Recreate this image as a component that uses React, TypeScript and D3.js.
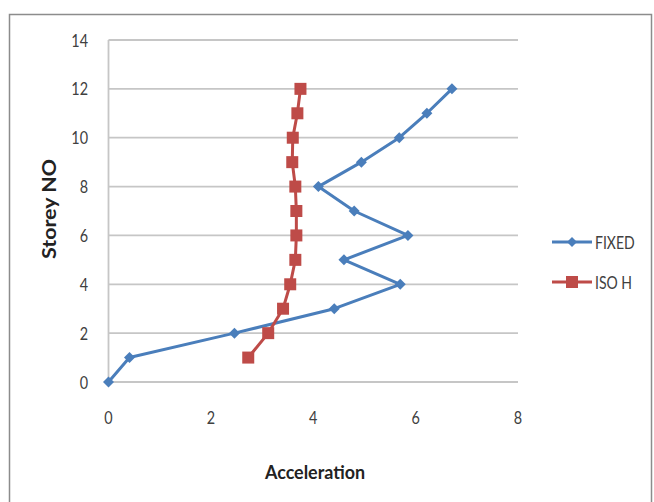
import React from "react";
import * as d3 from "d3";

const storeys = [0, 1, 2, 3, 4, 5, 6, 7, 8, 9, 10, 11, 12];
const fixedAcc = [0, 0.41, 2.46, 4.41, 5.7, 4.6, 5.85, 4.8, 4.1, 4.94, 5.68, 6.22, 6.71];
const isoStoreys = [1, 2, 3, 4, 5, 6, 7, 8, 9, 10, 11, 12];
const isoAcc = [2.73, 3.12, 3.41, 3.55, 3.65, 3.67, 3.67, 3.65, 3.59, 3.6, 3.69, 3.75];
const xTicks = [0, 2, 4, 6, 8];
const yTicks = [0, 2, 4, 6, 8, 10, 12, 14];
const seriesNames = ["FIXED", "ISO H"];

const W = 654;
const H = 502;
const font = "Lato, 'Open Sans', sans-serif";
const blue = "#4a7ebb";
const red = "#be4b48";
const labelColor = "#404040";

// narrow-looking text: horizontally condensed around its anchor point
function NarrowText(props: {
  x: number;
  y: number;
  anchor?: "start" | "middle" | "end";
  size: number;
  squeeze?: number;
  children: React.ReactNode;
}) {
  const { x, y, anchor = "start", size, squeeze = 0.8, children } = props;
  return (
    <text
      transform={`translate(${x},${y}) scale(${squeeze},1)`}
      textAnchor={anchor}
      fontFamily={font}
      fontSize={size}
      fill={labelColor}
    >
      {children}
    </text>
  );
}

export default function App() {
  const x = d3.scaleLinear().domain([0, 8]).range([108.5, 518]);
  const y = d3.scaleLinear().domain([0, 14]).range([382, 40]);

  const fixedPts: [number, number][] = storeys.map((s, i) => [fixedAcc[i], s]);
  const isoPts: [number, number][] = isoStoreys.map((s, i) => [isoAcc[i], s]);
  const line = d3
    .line<[number, number]>()
    .x((d) => x(d[0]))
    .y((d) => y(d[1]));

  const diamond = (cx: number, cy: number, r: number) =>
    `M${cx},${cy - r}L${cx + r},${cy}L${cx},${cy + r}L${cx - r},${cy}Z`;

  return (
    <svg
      width={W}
      height={H}
      style={{ position: "absolute", left: 0, top: 0, background: "#fff" }}
    >
      <rect x={0} y={0} width={W} height={H} fill="#fff" />
      <rect x={9.5} y={14.5} width={642} height={500} fill="none" stroke="#8c8c8c" strokeWidth={1.5} />

      {yTicks.map((t) => (
        <g key={t}>
          <line x1={x(0)} x2={x(8)} y1={y(t)} y2={y(t)} stroke="#c6c6c6" strokeWidth={1.8} />
          <NarrowText x={88} y={y(t) + 6.5} anchor="end" size={18}>
            {t}
          </NarrowText>
        </g>
      ))}
      <line x1={x(0)} x2={x(0)} y1={y(14)} y2={y(0)} stroke="#c6c6c6" strokeWidth={1.8} />
      {xTicks.map((t) => (
        <NarrowText key={t} x={x(t)} y={424} anchor="middle" size={18}>
          {t}
        </NarrowText>
      ))}

      <text
        x={315}
        y={479}
        textAnchor="middle"
        fontFamily={font}
        fontSize={19}
        fontWeight="bold"
        fill="#222"
        textLength={100}
        lengthAdjust="spacingAndGlyphs"
      >
        Acceleration
      </text>
      <text
        transform={`translate(56,${209}) rotate(-90)`}
        textAnchor="middle"
        fontFamily={font}
        fontSize={19}
        fontWeight="bold"
        fill="#222"
        textLength={100}
        lengthAdjust="spacingAndGlyphs"
      >
        Storey NO
      </text>

      <path d={line(fixedPts) ?? ""} fill="none" stroke={blue} strokeWidth={3} strokeLinejoin="round" />
      {fixedPts.map((p, i) => (
        <path key={i} d={diamond(x(p[0]), y(p[1]), 5.5)} fill={blue} />
      ))}

      <path d={line(isoPts) ?? ""} fill="none" stroke={red} strokeWidth={3} />
      {isoPts.map((p, i) => (
        <rect key={i} x={x(p[0]) - 6} y={y(p[1]) - 6} width={12} height={12} fill={red} />
      ))}

      {seriesNames.map((name, i) => {
        const ly = 242 + i * 40;
        const c = i === 0 ? blue : red;
        return (
          <g key={name}>
            <line x1={552} x2={592} y1={ly} y2={ly} stroke={c} strokeWidth={3} />
            {i === 0 ? (
              <path d={diamond(572, ly, 5)} fill={c} />
            ) : (
              <rect x={566} y={ly - 6} width={12} height={12} fill={c} />
            )}
            <NarrowText x={595} y={ly + 6.5} size={18} squeeze={0.78}>
              {name}
            </NarrowText>
          </g>
        );
      })}
    </svg>
  );
}
